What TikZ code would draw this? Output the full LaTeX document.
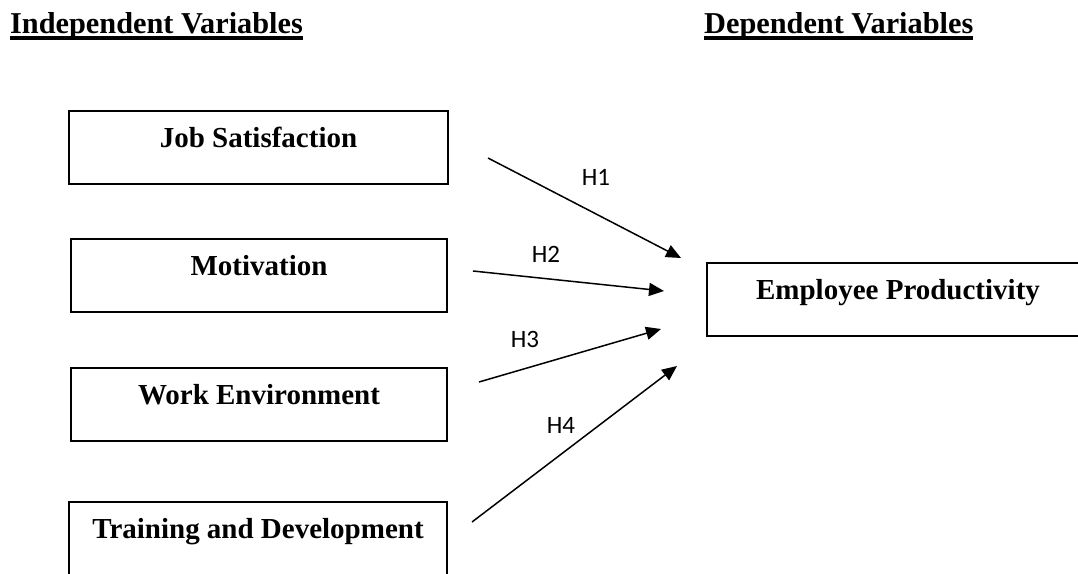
\documentclass[tikz,border=0pt]{standalone}
\usepackage{fontspec}
\setmainfont{Liberation Serif}
\newfontfamily\hfont{Carlito}
\usetikzlibrary{arrows.meta}
\begin{document}
\begin{tikzpicture}[x=1pt,y=-1pt,
  varbox/.style={draw=black, line width=2.7pt, inner xsep=0pt, inner ysep=0pt,
    text height=36.5pt, text depth=36.5pt, align=center,
    font=\fontsize{29}{35}\selectfont\bfseries},
  header/.style={inner sep=0pt, anchor=base west, font=\fontsize{30.3}{36}\selectfont\bfseries},
  uline/.style={line width=3.2pt},
  hyp/.style={line width=1.5pt, -{Triangle[length=15pt,width=13pt]}},
  hlab/.style={inner sep=0pt, font=\hfont\fontsize{25}{30}\selectfont}]
\useasboundingbox (0,0) rectangle (1078,573);
\fill[white] (0,0) rectangle (1078,573);
\begin{scope}
\clip (0,0) rectangle (1078,573);
% headers
\node[header] (hind) at (10,33) {Independent Variables};
\node[header] (hdep) at (704,33) {Dependent Variables};
\draw[uline] ([yshift=-5pt]hind.base west) -- ([yshift=-5pt]hind.base east);
\draw[uline] ([yshift=-5pt]hdep.base west) -- ([yshift=-5pt]hdep.base east);
% boxes
\node[varbox, minimum width=379pt] (js) at (258.5,147.5) {Job Satisfaction};
\node[varbox, minimum width=376pt] (mot) at (259,275.5) {Motivation};
\node[varbox, minimum width=376pt] (we) at (259,404.5) {Work Environment};
\node[varbox, minimum width=378pt] (td) at (258,538.5) {Training and Development};
\node[varbox, minimum width=382pt] (ep) at (898,299.5) {Employee Productivity};
% arrow end points
\coordinate (s1) at (488,158);
\coordinate (t1) at (681,258);
\coordinate (s2) at (473,271);
\coordinate (t2) at (664,291);
\coordinate (s3) at (479,382);
\coordinate (t3) at (661,329);
\coordinate (s4) at (472,522);
\coordinate (t4) at (677,366);
\draw[hyp] (s1) -- (t1);
\draw[hyp] (s2) -- (t2);
\draw[hyp] (s3) -- (t3);
\draw[hyp] (s4) -- (t4);
% labels
\node[hlab] (h1) at (596,177) {H1};
\node[hlab] (h2) at (546,254) {H2};
\node[hlab] (h3) at (525,339) {H3};
\node[hlab] (h4) at (561,425) {H4};
\end{scope}
\end{tikzpicture}
\end{document}
